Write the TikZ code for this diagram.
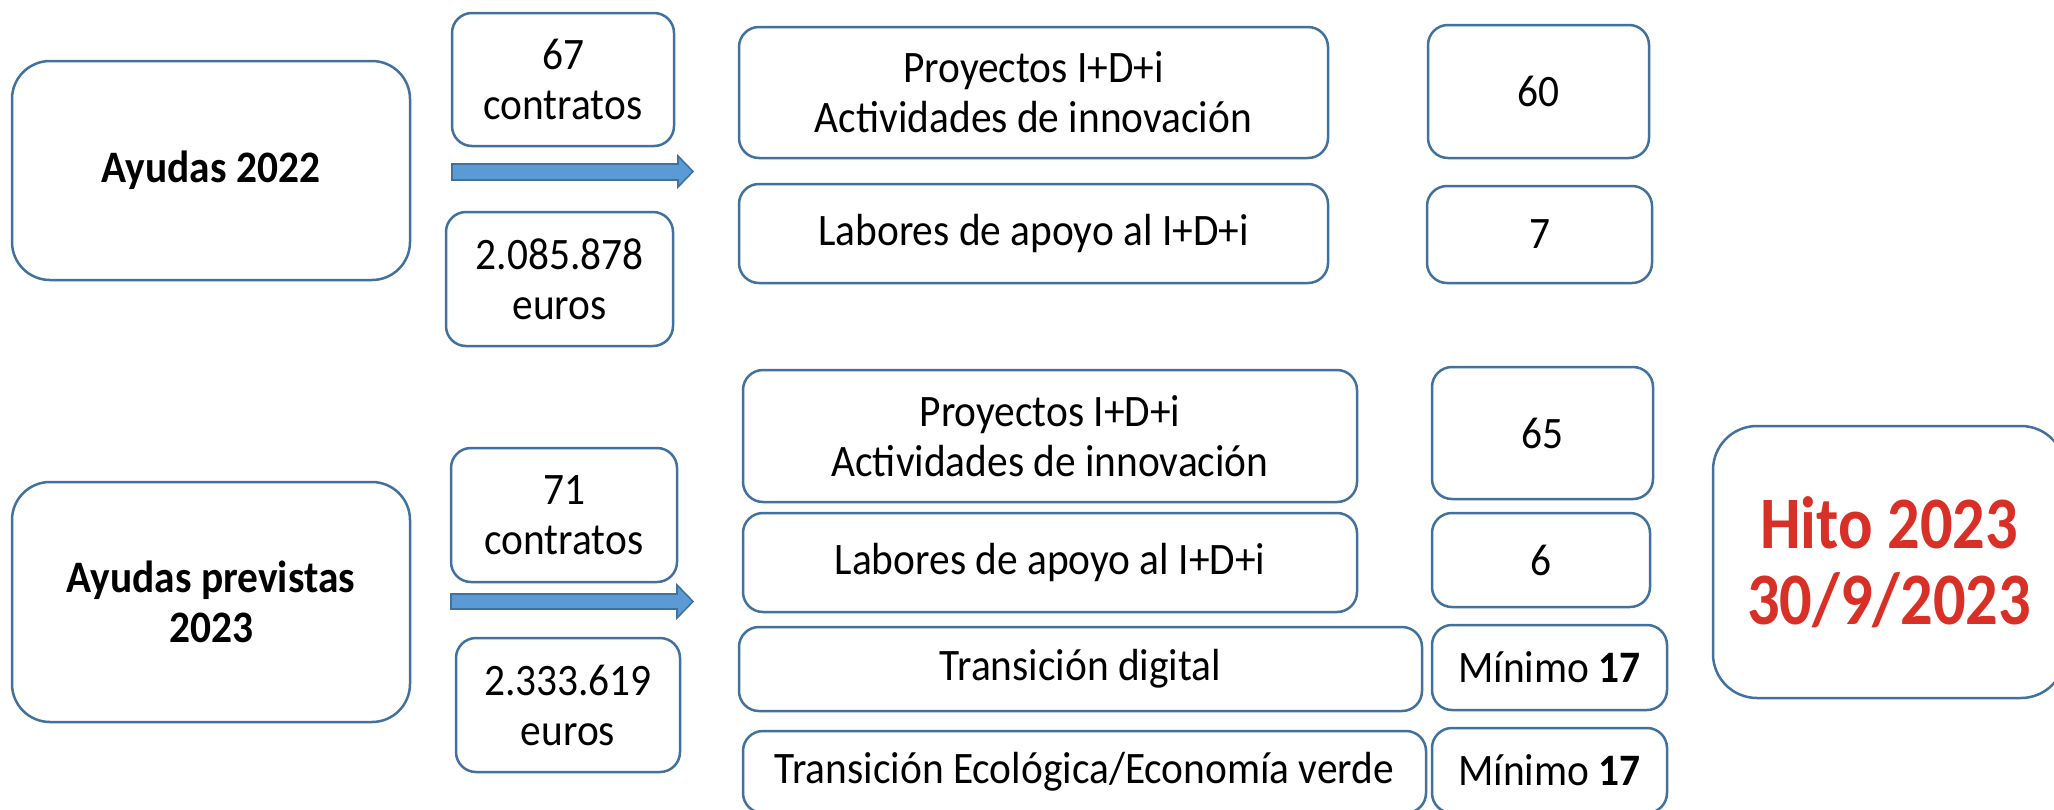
\documentclass[tikz,border=0pt]{standalone}
\usepackage{fontspec}
\setmainfont{Carlito}[FakeStretch=0.92]
\newfontfamily\hitofont{Carlito}[FakeStretch=0.87]
\usetikzlibrary{fit}
\definecolor{edge}{RGB}{65,113,156}
\definecolor{arrowfill}{RGB}{91,155,213}
\definecolor{hitored}{RGB}{216,48,38}
\begin{document}
\begin{tikzpicture}[x=0.5pt,y=-0.5pt,
  box/.style={draw=edge, line width=1.25pt, rounded corners=10pt, inner sep=0pt},
  bigbox/.style={box, rounded corners=19pt},
  hitobox/.style={box, rounded corners=22pt},
  lbl/.style={align=center, inner sep=0pt, font=\fontsize{22.5}{25}\selectfont},
  boldlbl/.style={lbl, font=\fontsize{22.5}{25}\selectfont\bfseries},
  hitolbl/.style={lbl, text=hitored, font=\hitofont\fontsize{37}{38}\selectfont\bfseries},
  blockarrow/.style={draw=edge, fill=arrowfill, line width=0.8pt, line join=miter}]
\useasboundingbox (0,0) rectangle (2054,809);
\fill[white] (0,0) rectangle (2054,809);
\clip (0,0) rectangle (2054,809);

% --- 2022 ---
\node[bigbox, fit={(12,61)(410,280)}, label={[boldlbl]center:Ayudas 2022}] (a22) {};
\node[box, fit={(452,13)(674,146)}, label={[lbl]center:{67\\contratos}}] (c22) {};
\node[box, fit={(446,212)(673,346)}, label={[lbl]center:{2.085.878\\euros}}] (e22) {};
\coordinate (ar1s) at (452,172);
\draw[blockarrow] (ar1s) ++(0,-8) -- ++(226,0) -- ++(0,-8) -- ++(15,15.5)
  -- ++(-15,15.5) -- ++(0,-7) -- ++(-226,0) -- cycle;

\node[box, fit={(739,27)(1328,158)}, label={[lbl]center:{Proyectos I+D+i\\Actividades de innovación}}] (p22) {};
\node[box, fit={(739,184)(1328,283)}, label={[lbl]center:Labores de apoyo al I+D+i}] (l22) {};
\node[box, fit={(1428,25)(1649,158)}, label={[lbl]center:60}] (n60) {};
\node[box, fit={(1427,186)(1652,283)}, label={[lbl]center:7}] (n7) {};

% --- 2023 ---
\node[bigbox, fit={(12,482)(410,722)}, label={[boldlbl]center:{Ayudas previstas\\2023}}] (a23) {};
\node[box, fit={(451,448)(677,582)}, label={[lbl]center:{71\\contratos}}] (c23) {};
\node[box, fit={(456,638)(680,772)}, label={[lbl]center:{2.333.619\\euros}}] (e23) {};
\coordinate (ar2s) at (451,601.5);
\draw[blockarrow] (ar2s) ++(0,-7.5) -- ++(226,0) -- ++(0,-9) -- ++(16,16.5)
  -- ++(-16,16.5) -- ++(0,-9) -- ++(-226,0) -- cycle;

\node[box, fit={(743,370)(1357,502)}, label={[lbl]center:{Proyectos I+D+i\\Actividades de innovación}}] (p23) {};
\node[box, fit={(743,513)(1357,612)}, label={[lbl]center:Labores de apoyo al I+D+i}] (l23) {};
\node[box, fit={(739,627)(1422,711)}, label={[lbl]center:Transición digital}] (td) {};
\node[box, fit={(743,731)(1426,813)}, label={[lbl]center:Transición Ecológica/Economía verde}] (te) {};
\node[box, fit={(1432,367)(1653,499)}, label={[lbl]center:65}] (n65) {};
\node[box, fit={(1432,513)(1650,607)}, label={[lbl]center:6}] (n6) {};
\node[box, fit={(1432,625)(1667,710)}, label={[lbl]center:{Mínimo \textbf{17}}}] (m1) {};
\node[box, fit={(1432,728)(1667,813)}, label={[lbl]center:{Mínimo \textbf{17}}}] (m2) {};

\node[hitobox, fit={(1713,426)(2065,698)}, label={[hitolbl]center:{Hito 2023\\30/9/2023}}] (hito) {};
\end{tikzpicture}
\end{document}
